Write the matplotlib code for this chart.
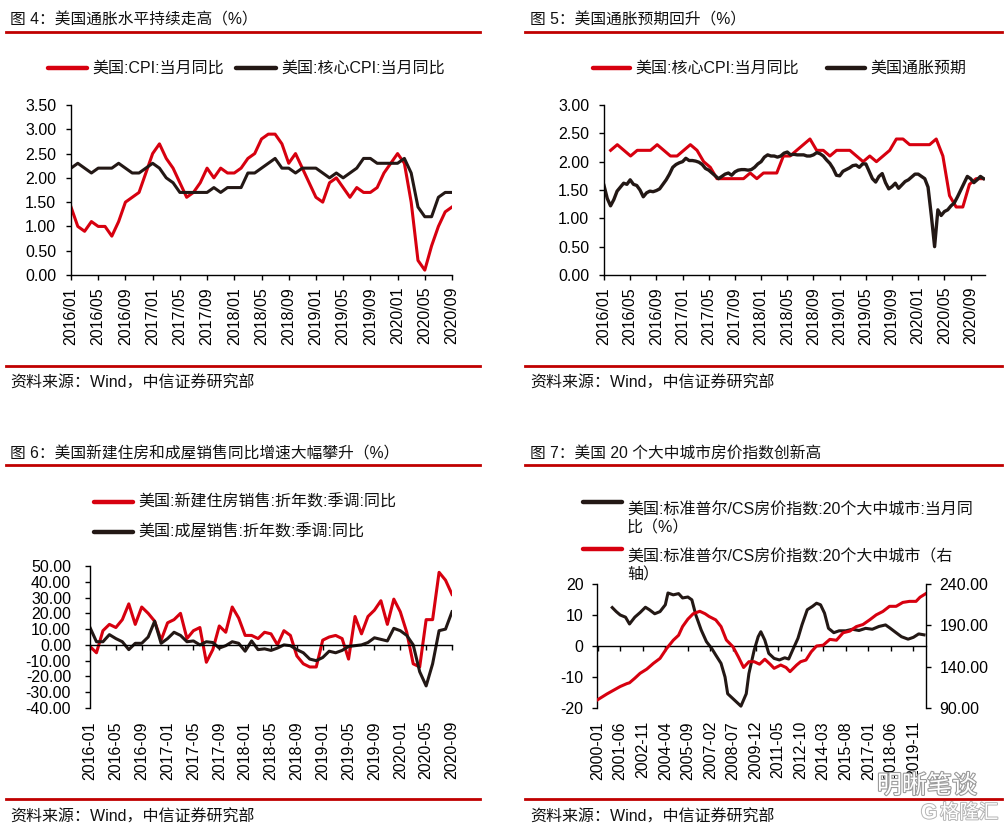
import matplotlib
matplotlib.use("Agg")
import matplotlib.pyplot as plt
import numpy as np
from matplotlib.lines import Line2D
from matplotlib.ticker import FormatStrFormatter
import matplotlib.patheffects as pe

plt.rcParams['font.family'] = ['Liberation Sans', 'Noto Sans CJK SC', 'DejaVu Sans']
plt.rcParams['axes.unicode_minus'] = False

RED = '#D7000F'
BLK = '#231815'
RULE = '#C00000'
W, H = 1006, 832
FS = 11.5

# --- data: fig 4 / fig 5 (monthly 2016/01 - 2020/09) ---
cpi_yoy = [1.4, 1.0, 0.9, 1.1, 1.0, 1.0, 0.8, 1.1, 1.5, 1.6, 1.7, 2.1,
           2.5, 2.7, 2.4, 2.2, 1.9, 1.6, 1.7, 1.9, 2.2, 2.0, 2.2, 2.1,
           2.1, 2.2, 2.4, 2.5, 2.8, 2.9, 2.9, 2.7, 2.3, 2.5, 2.2, 1.9,
           1.6, 1.5, 1.9, 2.0, 1.8, 1.6, 1.8, 1.7, 1.7, 1.8, 2.1, 2.3,
           2.5, 2.3, 1.5, 0.3, 0.1, 0.6, 1.0, 1.3, 1.4]
core_yoy = [2.2, 2.3, 2.2, 2.1, 2.2, 2.2, 2.2, 2.3, 2.2, 2.1, 2.1, 2.2,
            2.3, 2.2, 2.0, 1.9, 1.7, 1.7, 1.7, 1.7, 1.7, 1.8, 1.7, 1.8,
            1.8, 1.8, 2.1, 2.1, 2.2, 2.3, 2.4, 2.2, 2.2, 2.1, 2.2, 2.2,
            2.2, 2.1, 2.0, 2.1, 2.0, 2.1, 2.2, 2.4, 2.4, 2.3, 2.3, 2.3,
            2.3, 2.4, 2.1, 1.4, 1.2, 1.2, 1.6, 1.7, 1.7]
month_ticks = ['2016/01', '2016/05', '2016/09', '2017/01', '2017/05', '2017/09',
               '2018/01', '2018/05', '2018/09', '2019/01', '2019/05', '2019/09',
               '2020/01', '2020/05', '2020/09']

# breakeven inflation, read twice a month from 2016-01 onward
breakeven = [1.58, 1.35, 1.22, 1.33, 1.48, 1.55, 1.62, 1.60, 1.68, 1.60,
             1.58, 1.50, 1.38, 1.45, 1.48, 1.47, 1.49, 1.52, 1.60, 1.68,
             1.78, 1.90, 1.95, 1.98, 2.00, 2.06, 2.02, 2.02, 2.01, 1.99,
             1.95, 1.88, 1.85, 1.80, 1.75, 1.70, 1.74, 1.78, 1.80, 1.76,
             1.82, 1.85, 1.86, 1.86, 1.85, 1.86, 1.90, 1.96, 2.00, 2.08,
             2.12, 2.10, 2.10, 2.08, 2.10, 2.15, 2.17, 2.12, 2.13, 2.12,
             2.12, 2.12, 2.10, 2.10, 2.12, 2.16, 2.14, 2.10, 2.03, 1.97,
             1.88, 1.76, 1.75, 1.83, 1.86, 1.89, 1.93, 1.94, 1.90, 1.96,
             1.96, 1.83, 1.70, 1.64, 1.74, 1.79, 1.63, 1.52, 1.56, 1.62,
             1.53, 1.59, 1.65, 1.68, 1.73, 1.78, 1.78, 1.74, 1.70, 1.55,
             1.05, 0.50, 1.15, 1.05, 1.12, 1.15, 1.22, 1.27, 1.38, 1.50,
             1.62, 1.74, 1.70, 1.63, 1.68, 1.74, 1.70]

# --- data: fig 6 (monthly 2016-01 - 2020-09) ---
new_home_yoy = [-1, -5, 9, 13, 11, 16, 26, 13, 24, 20, 15, 3,
                14, 16, 20, 4, 9, 11, -11, -3, 12, 8, 24, 17,
                6, 6, 4, 8, 7, 0, 9, 6, -7, -12, -14, -14,
                3, 5, 6, 4, -9, 18, 7, 18, 22, 28, 13, 29,
                21, 8, -12, -14, 16, 16, 46, 41, 32]
existing_yoy = [11, 2, 2, 6.5, 4, 2, -3, 1, 1, 5, 15, 1,
                4, 8, 6, 2, 2.5, 0, 2, 1.5, -2, -0.5, 2, 1,
                -4, 2.5, -3, -2.5, -3.5, -2, 0, -0.5, -3, -5, -9, -10,
                -8, -4, -5, -3.5, -1, -0.5, 0, 1.5, 4.5, 3.5, 2.5, 10.5,
                9, 6, 0, -17, -26, -12, 9, 10, 21]
dash_ticks = ['2016-01', '2016-05', '2016-09', '2017-01', '2017-05', '2017-09',
              '2018-01', '2018-05', '2018-09', '2019-01', '2019-05', '2019-09',
              '2020-01', '2020-05', '2020-09']

# --- data: fig 7 (months since 2000-01) ---
hpi_month = [0, 3, 7, 12, 17, 22, 24, 28, 32, 37, 42, 47, 52, 57, 61, 64, 68, 72, 77, 81,
             84, 89, 93, 97, 102, 106, 110, 114, 118, 122, 126, 130, 133, 138, 142, 145,
             150, 153, 157, 161, 165, 170, 175, 180, 185, 190, 195, 200, 205, 210, 215,
             220, 225, 230, 235, 240, 243, 247]
hpi_level = [100, 103, 107, 111.5, 116, 119.5, 120.5, 126, 132, 137, 144, 150, 162, 172,
             178, 188.5, 197.5, 204, 207, 204, 200.7, 196.6, 188.5, 172.3, 164, 152, 139,
             146, 146, 143, 149, 143, 138, 142, 139, 134, 142, 146, 148, 158, 165, 166,
             173, 172, 181, 183, 188.5, 191, 196.6, 202.7, 206.8, 213, 213, 217.7, 219,
             219, 224, 228]
yoy_month = [11, 14, 17, 21, 24, 28, 32, 36, 39, 43, 47, 51, 53, 57, 61, 64, 68, 71, 74, 78,
             82, 86, 89, 93, 96, 98, 102, 106, 108, 112, 114, 118, 121, 123, 126, 129, 133,
             137, 141, 144, 147, 151, 154, 158, 162, 165, 168, 171, 174, 178, 182, 187, 192,
             197, 202, 207, 212, 217, 220, 224, 229, 234, 238, 242, 246]
hpi_yoy = [12.4, 11.1, 10, 9.3, 7.1, 9.3, 10.8, 12.5, 11.7, 10.4, 11.1, 13.3, 17.1, 16.5,
           16.9, 15.5, 15.8, 14.9, 10, 5.2, 1.4, -0.8, -2.9, -5.6, -10, -15.4, -17, -18.6,
           -19.4, -15.4, -8.9, -1.3, 3, 4.6, 1.9, -2.4, -4, -4.5, -3.8, -4.2, -1.3, 2.5,
           6.8, 11.7, 12.8, 13.8, 13.3, 10.6, 5.7, 4.3, 4.9, 4.9, 5.4, 5, 5.7, 5.4, 6.3,
           6.8, 5.9, 4.6, 3, 2.2, 2.8, 3.9, 3.6]
hpi_ticks = ['2000-01', '2001-06', '2002-11', '2004-04', '2005-09', '2007-02', '2008-07',
             '2009-12', '2011-05', '2012-10', '2014-03', '2015-08', '2017-01', '2018-06',
             '2019-11']


fig = plt.figure(figsize=(W / 100, H / 100), dpi=100)


def fx(x):
    return x / W


def fy(y):
    return 1 - y / H


def box(x0, y0, x1, y1):
    return [fx(x0), fy(y1), (x1 - x0) / W, (y1 - y0) / H]


def frame(x_text, x0, x1, y_title, y_rule, title, y_rule2, y_src):
    fig.text(fx(x_text), fy(y_title), title, fontsize=11.3, va='center', color='#111111')
    fig.add_artist(Line2D([fx(x0), fx(x1)], [fy(y_rule)] * 2, color=RULE, lw=2))
    fig.add_artist(Line2D([fx(x0), fx(x1)], [fy(y_rule2)] * 2, color=RULE, lw=2))
    fig.text(fx(x_text), fy(y_src), '资料来源：Wind，中信证券研究部', fontsize=FS,
             va='center', color='#111111')


def legend_item(x0, x1, y, color, text):
    fig.add_artist(Line2D([fx(x0), fx(x1)], [fy(y)] * 2, color=color, lw=3.2,
                          solid_capstyle='round'))
    fig.text(fx(x1 + 5), fy(y), text, fontsize=FS, va='top' if '\n' in text else 'center',
             linespacing=1.25, color='#111111')


def style(ax, ypad=7):
    for s in ['top', 'right']:
        ax.spines[s].set_visible(False)
    for s in ['left', 'bottom']:
        ax.spines[s].set_linewidth(1)
    ax.tick_params(direction='out', length=3.6, width=1, labelsize=FS)
    ax.tick_params(axis='y', pad=ypad)
    ax.tick_params(axis='x', pad=5)


def bottom_labels(ax, pos, labels):
    for p, lab in zip(pos, labels):
        ax.annotate(lab, xy=(p, 0), xycoords=ax.get_xaxis_transform(), xytext=(0, -13),
                    textcoords='offset pixels', rotation=90, ha='center', va='top',
                    fontsize=FS)


# ---- 图4 ----
frame(10, 6, 480, 20, 32, '图 4：美国通胀水平持续走高（%）', 366, 383)
legend_item(48, 87, 68, RED, '美国:CPI:当月同比')
legend_item(236, 276, 68, BLK, '美国:核心CPI:当月同比')
ax1 = fig.add_axes(box(71, 105, 452, 275))
t1 = np.arange(len(cpi_yoy))
ax1.plot(t1, cpi_yoy, color=RED, lw=2.2)
ax1.plot(t1, core_yoy, color=BLK, lw=2.2)
ax1.set_xlim(0, len(cpi_yoy) - 1)
ax1.set_ylim(0, 3.5)
ax1.set_yticks(np.arange(0, 3.51, 0.5))
ax1.yaxis.set_major_formatter(FormatStrFormatter('%.2f'))
ax1.set_xticks(np.arange(0, len(cpi_yoy), 4))
ax1.set_xticklabels(month_ticks, rotation=90)
style(ax1)

# ---- 图5 ----
frame(530, 525, 1002, 20, 32, '图 5：美国通胀预期回升（%）', 366, 383)
legend_item(593, 630, 68, RED, '美国:核心CPI:当月同比')
legend_item(827, 865, 68, BLK, '美国通胀预期')
ax2 = fig.add_axes(box(604, 105, 985, 275))
ax2.plot(np.arange(1, len(core_yoy) + 1) * 1.015, core_yoy, color=RED, lw=2.2)
ax2.plot(np.arange(len(breakeven)) * 0.5, breakeven, color=BLK, lw=2.4)
ax2.set_xlim(0, 58.2)
ax2.set_ylim(0, 3.0)
ax2.set_yticks(np.arange(0, 3.01, 0.5))
ax2.yaxis.set_major_formatter(FormatStrFormatter('%.2f'))
ax2.set_xticks(np.arange(0, 57, 4))
ax2.set_xticklabels(month_ticks, rotation=90)
style(ax2)

# ---- 图6 ----
frame(10, 6, 480, 454, 465, '图 6：美国新建住房和成屋销售同比增速大幅攀升（%）', 799, 817)
legend_item(94, 133, 502, RED, '美国:新建住房销售:折年数:季调:同比')
legend_item(94, 133, 532, BLK, '美国:成屋销售:折年数:季调:同比')
ax3 = fig.add_axes(box(90, 566, 452, 708))
t3 = np.arange(len(new_home_yoy))
ax3.plot(t3, new_home_yoy, color=RED, lw=2.2)
ax3.plot(t3, existing_yoy, color=BLK, lw=2.2)
ax3.set_xlim(0, len(new_home_yoy) - 1)
ax3.set_ylim(-40, 50)
ax3.set_yticks(np.arange(-40, 51, 10))
ax3.yaxis.set_major_formatter(FormatStrFormatter('%.2f'))
style(ax3, ypad=10)
ax3.spines['bottom'].set_position(('data', 0))
ax3.set_xticks(np.arange(0, len(new_home_yoy), 4))
ax3.tick_params(axis='x', labelbottom=False)
bottom_labels(ax3, np.arange(0, len(new_home_yoy), 4), dash_ticks)

# ---- 图7 ----
frame(530, 525, 1002, 454, 465, '图 7：美国 20 个大中城市房价指数创新高', 799, 817)
legend_item(583, 622, 502, BLK, '美国:标准普尔/CS房价指数:20个大中城市:当月同\n比（%）')
legend_item(583, 622, 549, RED, '美国:标准普尔/CS房价指数:20个大中城市（右\n轴）')
ax4 = fig.add_axes(box(597, 584, 926, 708))
ax4.plot(yoy_month, hpi_yoy, color=BLK, lw=2.2)
ax4.set_xlim(-0.5, 247.5)
ax4.set_ylim(-20, 20)
ax4.set_yticks(np.arange(-20, 21, 10))
style(ax4, ypad=6)
ax4.spines['bottom'].set_position(('data', 0))
ax4.set_xticks(np.arange(0, 248, 17))
ax4.tick_params(axis='x', labelbottom=False)
bottom_labels(ax4, np.arange(0, 248, 17), hpi_ticks)
ax4r = ax4.twinx()
ax4r.plot(hpi_month, hpi_level, color=RED, lw=2.2)
ax4r.set_ylim(90, 240)
ax4r.set_yticks(np.arange(90, 241, 50))
ax4r.yaxis.set_major_formatter(FormatStrFormatter('%.2f'))
for s in ['top', 'left', 'bottom']:
    ax4r.spines[s].set_visible(False)
ax4r.spines['right'].set_linewidth(1)
ax4r.tick_params(direction='out', length=3.6, width=1, labelsize=FS, pad=6)

# watermark
fig.text(fx(877), fy(786), '明晰笔谈', fontsize=18, color='white', va='center',
         path_effects=[pe.withStroke(linewidth=1.6, foreground='#9a9a9a')])
fig.text(fx(921), fy(813), 'G', fontsize=15, color='white', va='center', fontweight='bold',
         path_effects=[pe.withStroke(linewidth=1.4, foreground='#b5b5b5')])
fig.text(fx(940), fy(813), '格隆汇', fontsize=14, color='white', va='center',
         path_effects=[pe.withStroke(linewidth=1.4, foreground='#b5b5b5')])

fig.savefig('out.png', dpi=100)
